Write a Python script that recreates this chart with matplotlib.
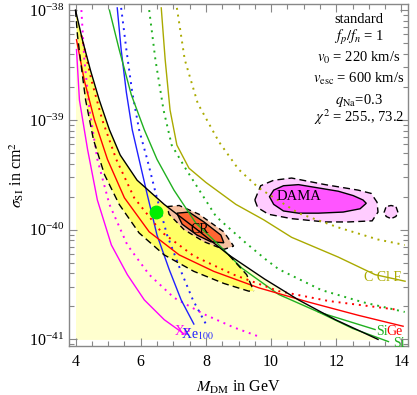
import numpy as np
import matplotlib
matplotlib.use("Agg")
import matplotlib.pyplot as plt
from matplotlib.ticker import LogLocator, MultipleLocator, NullFormatter, FixedLocator

plt.rcParams['font.family'] = 'serif'
plt.rcParams['font.serif'] = ['Liberation Serif', 'DejaVu Serif']
plt.rcParams['mathtext.fontset'] = 'stix'

# ---- data (M_DM in GeV, log10 sigma_SI in cm^2) ----
black_x = [4.0, 4.21, 4.46, 4.73, 5.04, 5.37, 5.89, 6.72, 7.73, 8.70, 9.80, 10.84, 11.97, 13.28]
black_y = [-38.0, -38.27, -38.55, -38.82, -39.09, -39.32, -39.55, -39.77, -40.0, -40.23, -40.45, -40.64, -40.82, -41.0]

band_low_x = [4.0, 4.06, 4.15, 4.31, 4.55, 4.89, 5.34, 5.95, 6.72, 7.63, 8.55, 9.31, 9.47]
band_low_y = [-38.0, -38.23, -38.45, -38.82, -39.18, -39.5, -39.77, -40.03, -40.23, -40.38, -40.49, -40.56, -40.56]
band_up_x = [8.70, 9.25, 9.47]
band_up_y = [-40.23, -40.41, -40.56]

red_x = [4.03, 4.27, 4.58, 4.98, 5.50, 6.26, 7.18, 8.24, 9.62, 11.15, 12.67, 14.05]
red_y = [-38.27, -38.64, -39.0, -39.36, -39.71, -40.02, -40.23, -40.38, -40.53, -40.66, -40.78, -40.88]
redd_x = [4.18, 4.49, 4.82, 5.25, 5.80, 6.63, 7.63, 8.85, 10.23, 11.76, 13.89]
redd_y = [-38.23, -38.64, -39.0, -39.36, -39.71, -40.02, -40.24, -40.41, -40.56, -40.65, -40.73]

mag_x = [4.03, 4.12, 4.37, 4.67, 5.10, 5.59, 6.11, 6.72, 7.33]
mag_y = [-38.36, -38.82, -39.27, -39.73, -40.14, -40.41, -40.64, -40.82, -40.95]
magd_x = [4.18, 4.27, 4.43, 4.67, 5.04, 5.59, 6.26, 7.02, 7.94, 8.85, 9.68]
magd_y = [-38.0, -38.45, -38.91, -39.36, -39.77, -40.14, -40.41, -40.62, -40.77, -40.89, -40.98]

blue_x = [5.28, 5.40, 5.56, 5.74, 5.95, 6.20, 6.50, 6.87, 7.24, 7.63]
blue_y = [-37.98, -38.36, -38.75, -39.09, -39.36, -39.68, -40.05, -40.36, -40.64, -40.86]
blued_x = [5.40, 5.56, 5.74, 5.95, 6.20, 6.47, 6.81, 7.21, 7.60, 8.0]
blued_y = [-37.98, -38.36, -38.75, -39.09, -39.36, -39.68, -40.05, -40.36, -40.64, -40.86]

green_x = [5.04, 5.34, 5.71, 6.11, 6.50, 7.02, 7.69, 8.40, 9.10, 10.23, 11.45, 13.19]
green_y = [-38.0, -38.36, -38.77, -39.09, -39.36, -39.64, -39.94, -40.14, -40.35, -40.59, -40.75, -40.91]
green2_x = [11.45, 12.5, 13.6]
green2_y = [-40.75, -40.9, -41.02]
greend_x = [6.26, 6.45, 6.70, 6.95, 7.39, 8.31, 9.22, 9.83, 10.23, 11.54, 12.8, 14.1]
greend_y = [-38.0, -38.45, -38.91, -39.23, -39.45, -39.88, -40.12, -40.27, -40.36, -40.55, -40.66, -40.75]

olive_x = [6.63, 6.75, 6.90, 7.11, 7.48, 8.0, 8.92, 9.77, 10.63, 12.06, 13.19, 14.11]
olive_y = [-37.98, -38.45, -38.91, -39.23, -39.44, -39.57, -39.77, -39.91, -40.07, -40.25, -40.41, -40.47]
olived_x = [7.11, 7.35, 7.75, 8.4, 9.0, 9.62, 10.84, 12.06, 13.28, 14.1]
olived_y = [-37.98, -38.45, -38.85, -39.2, -39.45, -39.62, -39.85, -39.98, -40.09, -40.14]

dama_in_x = [9.95, 10.08, 10.38, 10.84, 11.45, 12.06, 12.52, 12.82, 12.92, 12.73, 12.21, 11.45, 10.84, 10.38, 10.08]
dama_in_y = [-39.70, -39.64, -39.60, -39.59, -39.62, -39.65, -39.69, -39.73, -39.76, -39.81, -39.84, -39.85, -39.85, -39.83, -39.77]
dama_out_x = [9.50, 9.68, 10.08, 10.63, 11.66, 12.67, 13.07, 13.25, 13.28, 13.10, 12.37, 11.66, 10.63, 9.92, 9.59]
dama_out_y = [-39.73, -39.60, -39.55, -39.53, -39.59, -39.64, -39.67, -39.75, -39.84, -39.92, -39.93, -39.93, -39.90, -39.86, -39.80]
island_x = [13.89, 13.83, 13.68, 13.53, 13.47, 13.53, 13.68, 13.83]
island_y = [-39.84, -39.79, -39.78, -39.79, -39.84, -39.88, -39.90, -39.88]

cr_in_x = [7.11, 7.48, 7.94, 8.46, 8.55, 8.15, 7.73, 7.27]
cr_in_y = [-39.85, -39.84, -39.93, -40.05, -40.12, -40.11, -40.05, -39.95]
cr_out_x = [6.81, 7.18, 7.79, 8.55, 8.85, 8.55, 7.94, 7.33, 6.87]
cr_out_y = [-39.79, -39.78, -39.86, -40.02, -40.15, -40.18, -40.11, -40.0, -39.86]

point_x, point_y = 6.47, -39.84

info_lines = ["standard", r"$f_p/f_n$ = 1", r"$v_0$ = 220 km/s",
              r"$v_{\rm esc}$ = 600 km/s", r"$q_{\rm Na}$=0.3", r"$\chi^2$ = 255., 73.2"]
info_y = [-38.09, -38.25, -38.44, -38.63, -38.82, -38.98]


def P(v):
    return 10.0 ** np.asarray(v)


fig = plt.figure(figsize=(4.17, 3.95), dpi=100)
ax = fig.add_axes([69/417, 49/395, 339/417, 342.5/395])
ax.set_yscale('log')
ax.set_xlim(3.8, 14.2)
ax.set_ylim(10**-41.06, 10**-37.94)

# light yellow region below black curve
ax.fill_between(black_x, P(black_y), 1e-41, color='#FFFFCF', lw=0, zorder=1)

# bright yellow band
bx = np.concatenate([black_x[:10], band_up_x[1:], band_low_x[::-1]])
by = np.concatenate([black_y[:10], band_up_y[1:], band_low_y[::-1]])
ax.fill(bx, P(by), color='#FFFF66', lw=0, zorder=2)
dash = (0, (5, 3))
ax.plot(band_low_x, P(band_low_y), color='black', lw=1.0, ls=dash, zorder=6)
ax.plot(band_up_x, P(band_up_y), color='black', lw=1.0, ls=dash, zorder=6)

# DAMA
ax.fill(dama_out_x, P(dama_out_y), facecolor='#FFCCFF', edgecolor='black', lw=1.0,
        ls=dash, zorder=3)
ax.fill(dama_in_x, P(dama_in_y), facecolor='#FF55FF', edgecolor='black', lw=1.0, zorder=4)
ax.fill(island_x, P(island_y), facecolor='#FFCCFF', edgecolor='black', lw=1.0,
        ls=(0, (4, 2)), zorder=3)

# CR region
ax.fill(cr_out_x, P(cr_out_y), facecolor='#F8C0A0', edgecolor='black', lw=1.0,
        ls=(0, (4, 3)), zorder=3)
ax.fill(cr_in_x, P(cr_in_y), facecolor='#FF6633', edgecolor='black', lw=1.0, zorder=4)

dot = (0, (1, 2.5))
lines = [
    (mag_x, mag_y, '#FF00FF', '-'), (magd_x, magd_y, '#FF00FF', dot),
    (blue_x, blue_y, '#2020FF', '-'), (blued_x, blued_y, '#2020FF', dot),
    (green_x, green_y, '#20B020', '-'), (green2_x, green2_y, '#20B020', '-'),
    (greend_x, greend_y, '#20B020', dot),
    (olive_x, olive_y, '#AAAA00', '-'), (olived_x, olived_y, '#AAAA00', dot),
    (red_x, red_y, '#FF0000', '-'), (redd_x, redd_y, '#FF0000', dot),
]
for x, y, c, ls in lines:
    lw = 1.0 if ls == '-' else 1.4
    ax.plot(x, P(y), color=c, ls=ls, lw=lw, zorder=5)

ax.plot(black_x, P(black_y), color='black', lw=1.0, zorder=6)

ax.plot([point_x], [10**point_y], 'o', color='#00EE00', ms=9, zorder=7)

# labels
ax.text(7.8, 10**-40.0, 'CR', fontsize=10, color='black', ha='center', va='center', zorder=8)
ax.text(10.87, 10**-39.70, 'DAMA', fontsize=10.5, color='black', ha='center', va='center', zorder=8)
ax.text(13.43, 10**-40.44, 'C Cl F', fontsize=10, color='#AAAA00', ha='center', va='center', zorder=8)
ax.text(13.4, 10**-40.93, 'Si', fontsize=10, color='#20B020', ha='center', va='center', zorder=8)
ax.text(13.8, 10**-40.93, 'Ge', fontsize=10, color='#FF0000', ha='center', va='center', zorder=8)
ax.text(13.92, 10**-41.04, 'Si', fontsize=10, color='#20B020', ha='center', va='center', zorder=8)
ax.text(7.3, 10**-40.93, 'Xe', fontsize=10, color='#FF00FF', ha='center', va='center', zorder=8)
ax.text(7.75, 10**-40.95, r'Xe$_{100}$', fontsize=10, color='#2020FF', ha='center', va='center', zorder=8)

for s, yy in zip(info_lines, info_y):
    ax.text(12.7, 10**yy, s, fontsize=10.5, ha='center', va='center', zorder=8)

# ticks
ax.xaxis.set_major_locator(FixedLocator([4, 6, 8, 10, 12, 14]))
ax.xaxis.set_minor_locator(MultipleLocator(0.5))
ax.yaxis.set_major_locator(LogLocator(base=10, numticks=10))
ax.yaxis.set_minor_locator(LogLocator(base=10, subs=np.arange(2, 10), numticks=10))
ax.yaxis.set_minor_formatter(NullFormatter())
ax.tick_params(which='both', direction='in', top=True, right=True, color='#888888',
               labelsize=11.5)
ax.tick_params(which='major', length=6, width=0.8)
ax.tick_params(which='minor', length=3.5, width=0.8)
ax.tick_params(axis='x', pad=6)
for sp in ax.spines.values():
    sp.set_color('#888888')
    sp.set_linewidth(1.0)

ax.set_xlabel(r'$M_{\rm DM}$ in GeV', fontsize=11.5, labelpad=6)
ax.set_ylabel(r'$\sigma_{\rm SI}$ in cm$^2$', fontsize=11.5, labelpad=2)

fig.savefig('out.png', dpi=100)
